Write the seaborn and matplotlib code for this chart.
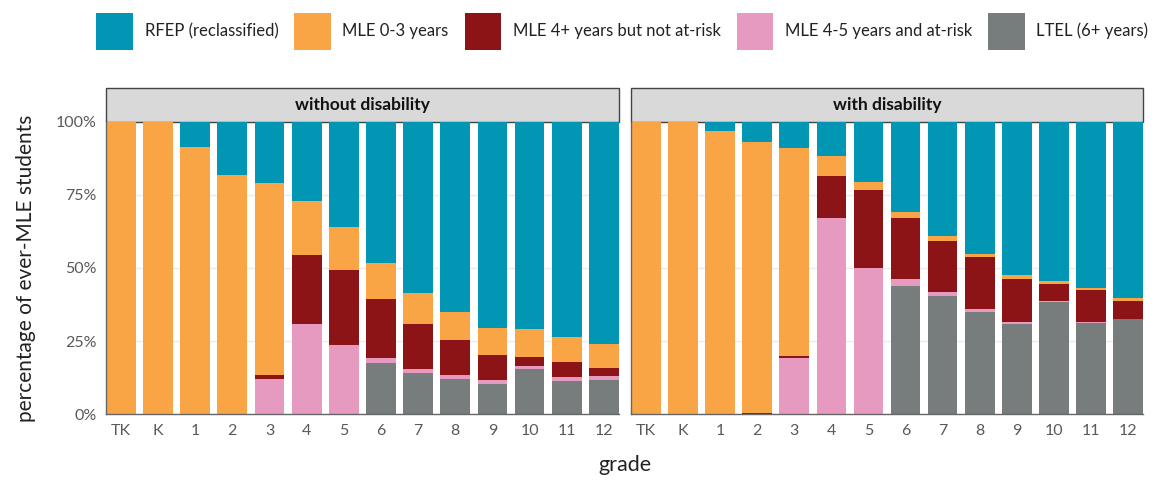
import matplotlib
matplotlib.use("Agg")
import matplotlib.pyplot as plt
from matplotlib.patches import Rectangle, Patch
from matplotlib.ticker import PercentFormatter
import pandas as pd
import seaborn as sns

grades = ["TK", "K", "1", "2", "3", "4", "5", "6", "7", "8", "9", "10", "11", "12"]
panels = ["without disability", "with disability"]

# percent of ever-MLE students, per grade
ltel_wo = [0, 0, 0, 0, 0, 0, 0, 17.4, 14.2, 12.1, 10.3, 15.4, 11.3, 11.6]
risk_wo = [0, 0, 0, 0, 11.9, 30.8, 23.6, 1.7, 1.2, 1.3, 1.3, 1.2, 1.3, 1.3]
notrisk_wo = [0, 0, 0, 0, 1.4, 23.8, 25.8, 20.3, 15.4, 12.1, 8.5, 2.9, 5.1, 3.0]
mle03_wo = [100, 100, 91.5, 81.7, 65.8, 18.2, 14.8, 12.3, 10.5, 9.3, 9.5, 9.6, 8.6, 8.0]
rfep_wo = [0, 0, 8.5, 18.3, 20.9, 27.2, 35.8, 48.3, 58.7, 65.2, 70.4, 70.9, 73.7, 76.1]

ltel_w = [0, 0, 0, 0, 0, 0, 0, 43.7, 40.5, 35.0, 30.9, 38.2, 31.0, 32.5]
risk_w = [0, 0, 0, 0, 19.1, 67.2, 49.9, 2.5, 1.3, 0.9, 0.7, 0.4, 0.6, 0.2]
notrisk_w = [0, 0, 0, 0.5, 0.6, 14.3, 26.8, 20.8, 17.5, 17.8, 14.7, 5.9, 10.8, 5.9]
mle03_w = [100, 100, 97.0, 92.5, 71.5, 6.8, 2.7, 2.1, 1.6, 1.1, 1.2, 1.0, 0.8, 1.0]
rfep_w = [0, 0, 3.0, 7.0, 8.8, 11.7, 20.6, 30.9, 39.1, 45.2, 52.5, 54.5, 56.8, 60.6]

layers = ["RFEP (reclassified)", "MLE 0-3 years", "MLE 4+ years but not at-risk",
          "MLE 4-5 years and at-risk", "LTEL (6+ years)"]
colors = ["#0096B4", "#F9A546", "#8C1417", "#E69ABF", "#777C7C"]

rows = []
for panel, series in zip(panels, [
        [rfep_wo, mle03_wo, notrisk_wo, risk_wo, ltel_wo],
        [rfep_w, mle03_w, notrisk_w, risk_w, ltel_w]]):
    for layer, vals in zip(layers, series):
        for g, v in zip(grades, vals):
            rows.append((panel, layer, g, v / 100))
df = pd.DataFrame(rows, columns=["panel", "status", "grade", "share"])

sns.set_style("white")
plt.rcParams["font.family"] = ["Lato", "DejaVu Sans"]

fig = plt.figure(figsize=(11.61, 4.84), dpi=100)
axes = [fig.add_axes([0.0913, 0.1446, 0.4417, 0.6034]),
        fig.add_axes([0.5435, 0.1446, 0.441, 0.6034])]

for ax, panel in zip(axes, panels):
    sub = df[df.panel == panel].pivot(index="grade", columns="status", values="share")
    sub = sub.loc[grades]
    # cumulative from the bottom: LTEL, at-risk, not at-risk, 0-3, RFEP
    order_bottom_up = layers[::-1]
    cum = sub[order_bottom_up].cumsum(axis=1).reset_index()
    # draw tallest first so lower layers sit on top
    for layer, col in zip(layers, colors):
        sns.barplot(data=cum, x="grade", y=layer, order=grades, color=col,
                    saturation=1, width=0.8, edgecolor="none", ax=ax, zorder=2)
    ax.set_xlim(-0.4, 13.4)
    ax.set_ylim(0, 1)
    ax.set_yticks([0, 0.25, 0.5, 0.75, 1.0])
    ax.yaxis.set_major_formatter(PercentFormatter(1.0, decimals=0))
    ax.grid(axis="y", color="#EBEBEB", lw=1, zorder=0)
    ax.set_axisbelow(True)
    ax.set_xlabel("")
    ax.set_ylabel("")
    ax.tick_params(length=0, labelsize=11.5, colors="#595959", pad=7)
    for s in ["top", "right"]:
        ax.spines[s].set_visible(False)
    for s in ["left", "bottom"]:
        ax.spines[s].set_color("#666666")
        ax.spines[s].set_linewidth(1.0)
    ax.add_patch(Rectangle((0, 1.0), 1, 0.1164, transform=ax.transAxes,
                           facecolor="#D9D9D9", edgecolor="#444444", lw=1.0,
                           clip_on=False))
    ax.text(0.5, 1.058, panel, transform=ax.transAxes, ha="center", va="center",
            fontsize=12.5, fontweight="bold", color="#111111")

axes[1].set_yticklabels([])

fig.text(0.022, 0.4463, "percentage of ever-MLE students", rotation=90,
         ha="center", va="center", fontsize=15, color="#222222")
fig.text(0.538, 0.04, "grade", ha="center", va="center", fontsize=15.5, color="#222222")

handles = [Patch(facecolor=c, edgecolor="none") for c in colors]
fig.legend(handles, layers, loc="upper center", bbox_to_anchor=(0.536, 1.005),
           ncol=5, frameon=False, fontsize=12, handlelength=2.2,
           handleheight=3.1, columnspacing=0.95, handletextpad=0.7, labelcolor="#222222")

fig.savefig("out.png", dpi=100)
